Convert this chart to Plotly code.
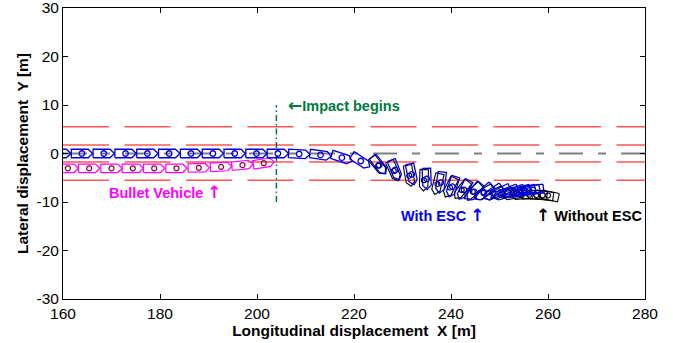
import numpy as np
import plotly.graph_objects as go

# ---------------- data ----------------
x_ticks = [160, 180, 200, 220, 240, 260, 280]
x_ticktext = ["160", "180", "200", "220", "240", "260", "280"]
y_ticks = [-30, -20, -10, 0, 10, 20, 30]
y_ticktext = ["-30", "-20", "-10", "0", "10", "20", "30"]

lane_y_red = [5.5, 1.75, -1.75, -5.5]
center_y = 0.0
road_x = [160, 280]

impact_x = 204.0
impact_y = [-10, 10]

# bullet vehicle (magenta)
bullet_x = [161.0, 165.4, 170.0, 174.4, 178.8, 183.4, 188.0, 192.6, 197.0, 201.4]
bullet_y = [-3.05, -3.05, -3.05, -3.05, -3.05, -3.05, -2.95, -2.75, -2.4, -2.0]
bullet_h = [0, 0, 0, 0, 0, 0, 1, 3, 6, 9]

# struck vehicle with ESC (blue)
esc_x = [159.4, 163.9, 168.4, 172.9, 177.4, 181.9, 186.4, 190.9, 195.4, 199.9, 204.3,
         208.7, 213.1, 217.5, 221.4, 225.2, 228.5, 231.9, 235.0, 237.9, 240.3, 242.7,
         244.8, 246.8, 248.6, 250.2, 251.7, 253.0, 254.2, 255.2, 256.1, 256.9]
esc_y = [0, 0, 0, 0, 0, 0, 0, 0, 0, 0, 0,
         -0.1, -0.3, -0.87, -1.55, -2.4, -3.4, -4.3, -5.25, -6.0, -6.85, -7.5,
         -7.9, -8.0, -8.05, -8.0, -7.95, -7.9, -7.8, -7.7, -7.6, -7.5]
esc_h = [0, 0, 0, 0, 0, 0, 0, 0, 0, 0, 0,
         -3, -8, -18, -33, -52, -68, -78, -88, -98, -108, -118,
         -128, -138, -146, -152, -158, -162, -165, -168, -170, -172]

# struck vehicle without ESC (black)
noesc_x = [225.0, 228.2, 231.4, 234.4, 237.2, 239.8, 242.2, 244.5, 246.7, 248.8,
           250.8, 252.7, 254.5, 256.1, 257.6, 258.9, 260.0]
noesc_y = [-2.5, -3.6, -4.6, -5.5, -6.3, -7.0, -7.5, -7.9, -8.15, -8.3,
           -8.4, -8.45, -8.5, -8.5, -8.55, -8.6, -8.65]
noesc_h = [-50, -66, -80, -92, -104, -116, -128, -140, -150, -158,
           -165, -171, -176, -180, -184, -188, -192]

VEH_L, VEH_W, VEH_TIP = 4.4, 1.75, 0.9


def outlines(xs, ys, hs):
    local = np.array([(-VEH_L / 2, -VEH_W / 2), (VEH_L / 2 - VEH_TIP, -VEH_W / 2),
                      (VEH_L / 2, 0), (VEH_L / 2 - VEH_TIP, VEH_W / 2),
                      (-VEH_L / 2, VEH_W / 2), (-VEH_L / 2, -VEH_W / 2)])
    px, py = [], []
    for x, y, h in zip(xs, ys, hs):
        a = np.deg2rad(h)
        c, s = np.cos(a), np.sin(a)
        for lx, ly in local:
            px.append(x + lx * c - ly * s)
            py.append(y + lx * s + ly * c)
        px.append(None)
        py.append(None)
    return px, py


fig = go.Figure()

# lane markings
for ly in lane_y_red:
    fig.add_trace(go.Scatter(x=road_x, y=[ly, ly], mode="lines",
                             line=dict(color="#ff0000", width=1, dash="46px,15.5px"),
                             hoverinfo="skip", showlegend=False))
fig.add_trace(go.Scatter(x=road_x, y=[center_y, center_y], mode="lines",
                         line=dict(color="#7f7f7f", width=2, dash="24px,15px,8px,15px"),
                         hoverinfo="skip", showlegend=False))

# impact line
fig.add_trace(go.Scatter(x=[impact_x, impact_x], y=impact_y, mode="lines",
                         line=dict(color="#007a3d", width=1.5, dash="6px,3px,1.5px,3px"),
                         hoverinfo="skip", showlegend=False))

# bullet vehicle
bx, by = outlines(bullet_x, bullet_y, bullet_h)
fig.add_trace(go.Scatter(x=bx, y=by, mode="lines", line=dict(color="#ff00ff", width=1.2),
                         showlegend=False))
fig.add_trace(go.Scatter(x=bullet_x, y=bullet_y, mode="markers",
                         marker=dict(symbol="circle-open", size=5, color="#8b0045",
                                     line=dict(width=1.2)), showlegend=False))

# without ESC
nx, ny = outlines(noesc_x, noesc_y, noesc_h)
fig.add_trace(go.Scatter(x=nx, y=ny, mode="lines", line=dict(color="#000000", width=1.1),
                         showlegend=False))
fig.add_trace(go.Scatter(x=noesc_x, y=noesc_y, mode="markers",
                         marker=dict(symbol="circle-open", size=5, color="#000000",
                                     line=dict(width=1.1)), showlegend=False))

# with ESC
ex, ey = outlines(esc_x, esc_y, esc_h)
fig.add_trace(go.Scatter(x=ex, y=ey, mode="lines", line=dict(color="#0000dd", width=1.3),
                         showlegend=False))
fig.add_trace(go.Scatter(x=esc_x, y=esc_y, mode="markers",
                         marker=dict(symbol="circle-open", size=5.5, color="#0000dd",
                                     line=dict(width=1.3)), showlegend=False))

font_b = "Liberation Sans, Arial, sans-serif"
AR = "<span style='font-family:DejaVu Sans;font-size:17px'>{}</span>"
ann = [
    dict(x=206.0, y=10.0, text="<b>" + AR.format("←") + "Impact begins</b>", color="#007a3d"),
    dict(x=169.0, y=-7.9, text="<b>Bullet Vehicle " + AR.format("↑") + "</b>", color="#ff00ff"),
    dict(x=229.3, y=-12.7, text="<b>With ESC " + AR.format("↑") + "</b>", color="#0000ff"),
    dict(x=257.2, y=-12.7, text="<b>" + AR.format("↑") + " Without ESC</b>", color="#000000"),
]
for a in ann:
    fig.add_annotation(x=a["x"], y=a["y"], text=a["text"], showarrow=False,
                       xanchor="left", yanchor="middle",
                       font=dict(family=font_b, size=14.5, color=a["color"]))

axis_common = dict(showgrid=False, zeroline=False, showline=True, linecolor="black",
                   linewidth=1, mirror="allticks", ticks="inside", ticklen=5,
                   tickcolor="black", ticklabeloverflow="allow", automargin=False,
                   tickfont=dict(family=font_b, size=15.5, color="black"))

fig.update_layout(
    width=673, height=343,
    margin=dict(l=63, r=28, t=8, b=44),
    paper_bgcolor="white", plot_bgcolor="white",
    showlegend=False,
    xaxis=dict(range=[160, 280], tickvals=x_ticks, ticktext=x_ticktext,
               title=dict(text="<b>Longitudinal displacement  X [m]</b>",
                          font=dict(family=font_b, size=15.5, color="black"), standoff=2),
               **axis_common),
    yaxis=dict(range=[-30, 30], tickvals=y_ticks, ticktext=y_ticktext,
               title=dict(text="<b>Lateral displacement  Y [m]</b>",
                          font=dict(family=font_b, size=15.5, color="black"), standoff=4),
               **axis_common),
)

fig.write_html("out.html")
